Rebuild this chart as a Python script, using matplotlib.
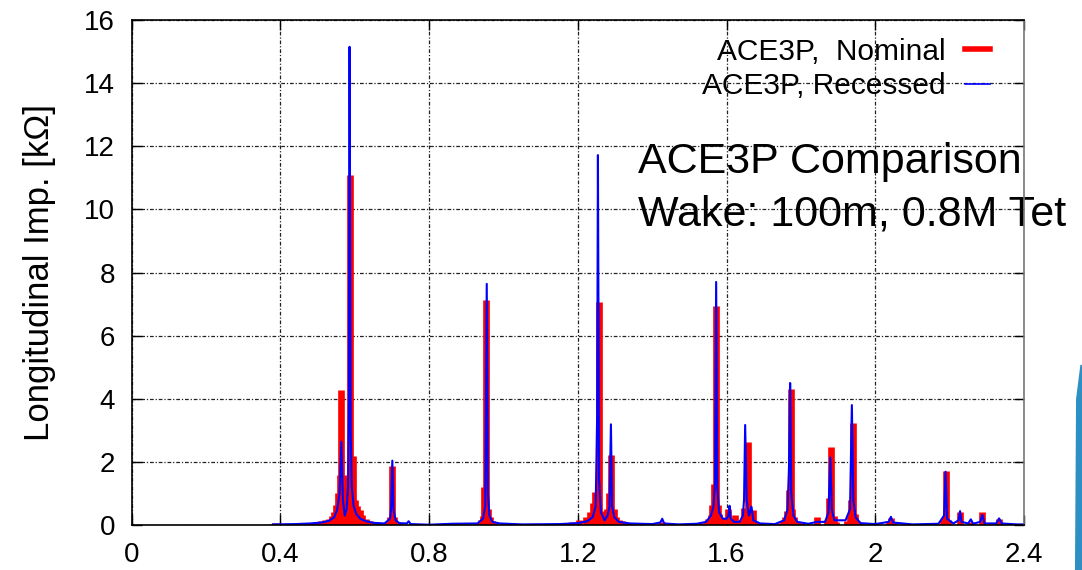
import matplotlib
matplotlib.use("Agg")
import matplotlib.pyplot as plt
from matplotlib.lines import Line2D
from matplotlib.patches import Polygon

plt.rcParams["font.family"] = ["Liberation Sans", "DejaVu Sans"]

# ACE3P nominal geometry (impulses), frequency [GHz] vs impedance [kOhm]
nominal_freq = [
    0.375, 0.385, 0.395,
    0.44, 0.46, 0.48, 0.49, 0.50, 0.51, 0.52, 0.53, 0.538, 0.545, 0.550, 0.555,
    0.559, 0.563, 0.567, 0.571, 0.575, 0.579, 0.586, 0.594, 0.600, 0.606,
    0.613, 0.620, 0.630, 0.640, 0.650, 0.660, 0.670,
    0.690, 0.695, 0.700, 0.705, 0.710, 0.720,
    0.935, 0.940, 0.944, 0.948, 0.954, 0.959, 0.963, 0.968, 0.975,
    1.170, 1.185, 1.203, 1.221, 1.232, 1.240, 1.245, 1.256, 1.266, 1.272,
    1.278, 1.284, 1.290, 1.296, 1.302, 1.310, 1.320, 1.335, 1.350,
    1.427,
    1.535, 1.544, 1.551, 1.557, 1.562, 1.566, 1.571, 1.576, 1.581, 1.588,
    1.595, 1.603, 1.610, 1.616, 1.622, 1.630, 1.640, 1.648, 1.657, 1.664,
    1.672, 1.680, 1.690,
    1.745, 1.752, 1.758, 1.763, 1.767, 1.772, 1.777, 1.782, 1.790, 1.800,
    1.843,
    1.870, 1.876, 1.882, 1.888, 1.895,
    1.925, 1.931, 1.935, 1.940, 1.945, 1.952, 1.960,
    2.036, 2.042, 2.048,
    2.183, 2.187, 2.190, 2.195,
    2.228, 2.257, 2.288, 2.333,
]
nominal_imp = [
    0.04, 0.05, 0.04,
    0.03, 0.04, 0.06, 0.08, 0.10, 0.12, 0.15, 0.20, 0.28, 0.42, 0.65, 1.0,
    1.6, 4.28, 1.1, 0.9, 1.2, 1.6, 11.1, 2.2, 0.8, 0.6,
    0.47, 0.33, 0.2, 0.12, 0.08, 0.06, 0.04,
    0.1, 0.25, 1.87, 0.25, 0.1, 0.05,
    0.08, 0.15, 0.3, 1.21, 7.13, 0.5, 0.25, 0.12, 0.06,
    0.05, 0.1, 0.15, 0.25, 0.4, 0.7, 1.05, 7.07, 0.45, 0.35,
    0.5, 1.0, 2.21, 0.5, 0.25, 0.17, 0.12, 0.07, 0.04,
    0.1,
    0.06, 0.1, 0.2, 0.32, 0.63, 1.29, 6.95, 0.63, 0.35, 0.22,
    0.2, 0.5, 0.15, 0.2, 0.32, 0.1, 0.15, 0.53, 2.62, 0.3,
    0.47, 0.1, 0.05,
    0.06, 0.12, 0.25, 0.45, 1.1, 4.31, 0.5, 0.25, 0.1, 0.05,
    0.26,
    0.15, 0.85, 2.48, 0.3, 0.1,
    0.12, 0.3, 0.8, 3.22, 0.35, 0.12, 0.05,
    0.12, 0.22, 0.1,
    0.15, 0.3, 1.72, 0.15,
    0.4, 0.1, 0.4, 0.2,
]

# ACE3P recessed geometry (line)
recessed_freq = [
    0.38, 0.44, 0.48, 0.51, 0.53, 0.545, 0.553, 0.559, 0.564, 0.568, 0.573,
    0.578, 0.582, 0.584, 0.586, 0.589, 0.592, 0.597, 0.604, 0.615, 0.63,
    0.65, 0.68, 0.695, 0.698, 0.701, 0.704, 0.71, 0.72, 0.74, 0.745, 0.75,
    0.80, 0.86, 0.93, 0.945, 0.951, 0.955, 0.958, 0.962, 0.97, 0.99, 1.05,
    1.15, 1.20, 1.225, 1.24, 1.248, 1.252, 1.254, 1.257, 1.262, 1.272, 1.28,
    1.285, 1.289, 1.292, 1.298, 1.31, 1.34, 1.40, 1.422, 1.427, 1.432, 1.47,
    1.52, 1.545, 1.558, 1.565, 1.569, 1.572, 1.575, 1.58, 1.59, 1.600,
    1.605, 1.608, 1.611, 1.62, 1.635, 1.644, 1.647, 1.650, 1.654, 1.66,
    1.667, 1.672, 1.69, 1.73, 1.755, 1.764, 1.768, 1.771, 1.774, 1.78,
    1.79, 1.82, 1.843, 1.865, 1.874, 1.879, 1.883, 1.89, 1.92, 1.932, 1.937,
    1.941, 1.947, 1.96, 2.0, 2.036, 2.042, 2.048, 2.1, 2.17, 2.185, 2.189,
    2.193, 2.21, 2.224, 2.228, 2.232, 2.25, 2.257, 2.263, 2.282, 2.288,
    2.294, 2.325, 2.333, 2.34, 2.38, 2.40,
]
recessed_imp = [
    0.02, 0.03, 0.05, 0.08, 0.13, 0.25, 0.5, 1.0, 2.64, 0.8, 0.3,
    0.5, 1.2, 3.6, 15.15, 3.0, 1.2, 0.6, 0.35, 0.2, 0.12,
    0.07, 0.05, 0.2, 0.58, 2.04, 0.5, 0.15, 0.06, 0.05, 0.12, 0.03,
    0.01, 0.04, 0.05, 0.2, 0.6, 7.64, 1.05, 0.3, 0.1, 0.05, 0.02,
    0.03, 0.06, 0.12, 0.25, 0.6, 3.5, 11.72, 1.5, 0.4, 0.15, 0.3,
    0.58, 3.19, 0.6, 0.25, 0.1, 0.05, 0.03, 0.08, 0.2, 0.05, 0.02,
    0.04, 0.1, 0.3, 0.6, 1.37, 7.7, 1.2, 0.4, 0.2, 0.2,
    0.3, 0.61, 0.2, 0.1, 0.1, 0.3, 0.8, 3.17, 0.8, 0.3,
    0.58, 0.15, 0.05, 0.03, 0.15, 0.5, 1.85, 4.5, 1.0, 0.3,
    0.1, 0.04, 0.1, 0.1, 0.4, 2.14, 0.5, 0.15, 0.15, 0.5, 3.8,
    0.8, 0.25, 0.06, 0.03, 0.1, 0.26, 0.08, 0.02, 0.04, 0.3, 1.69,
    0.2, 0.05, 0.15, 0.44, 0.1, 0.05, 0.18, 0.04, 0.1, 0.32,
    0.05, 0.05, 0.21, 0.05, 0.02, 0.02,
]

x_ticks = [0, 0.4, 0.8, 1.2, 1.6, 2.0, 2.4]
x_tick_labels = ["0", "0.4", "0.8", "1.2", "1.6", "2", "2.4"]
y_ticks = [0, 2, 4, 6, 8, 10, 12, 14, 16]

fig = plt.figure(figsize=(10.82, 5.70), dpi=100, facecolor="white")
ax = fig.add_axes([0.1217, 0.0789, 0.8247, 0.886])

ax.vlines(nominal_freq, 0, nominal_imp, color="#ff0000", linewidth=4.8, zorder=2)
ax.plot(recessed_freq, recessed_imp, color="#0000ff", linewidth=1.5, zorder=3)

ax.set_xlim(0, 2.4)
ax.set_ylim(0, 16)
ax.set_xticks(x_ticks)
ax.set_xticklabels(x_tick_labels)
ax.set_yticks(y_ticks)
ax.tick_params(direction="in", top=True, right=True, length=7, width=1,
               labelsize=20, pad=12)
ax.grid(True, color="#222222", linestyle=(0, (3, 1.5, 1, 1.5)), linewidth=0.9)
ax.set_axisbelow(True)
for side in ax.spines.values():
    side.set_linewidth(1.2)
    side.set_zorder(4)
ax.spines["right"].set_color("#777777")

ax.set_ylabel("Longitudinal Imp. [k\u03a9]", fontsize=25, labelpad=20)

handles = [
    Line2D([], [], color="#ff0000", linewidth=4),
    Line2D([], [], color="#0000ff", linewidth=1.2),
]
ax.legend(handles, ["ACE3P,  Nominal", "ACE3P, Recessed"], loc="upper right",
          frameon=False, markerfirst=False, fontsize=21.5, handlelength=0.85,
          handletextpad=0.65, labelspacing=0.22, borderaxespad=0.2,
          bbox_to_anchor=(0.982, 1.0))

ax.text(0.567, 0.758, "ACE3P Comparison\nWake: 100m, 0.8M Tet",
        transform=ax.transAxes, fontsize=31, va="top", ha="left",
        linespacing=1.4, clip_on=False)

# slide decoration at the right edge
fig.patches.append(Polygon([(0.9935, 0.0), (0.9945, 0.30), (0.9985, 0.36),
                            (1.0, 0.36), (1.0, 0.0)], closed=True,
                           transform=fig.transFigure, facecolor="#2d8fc4",
                           edgecolor="none"))

fig.savefig("out.png", dpi=100)
